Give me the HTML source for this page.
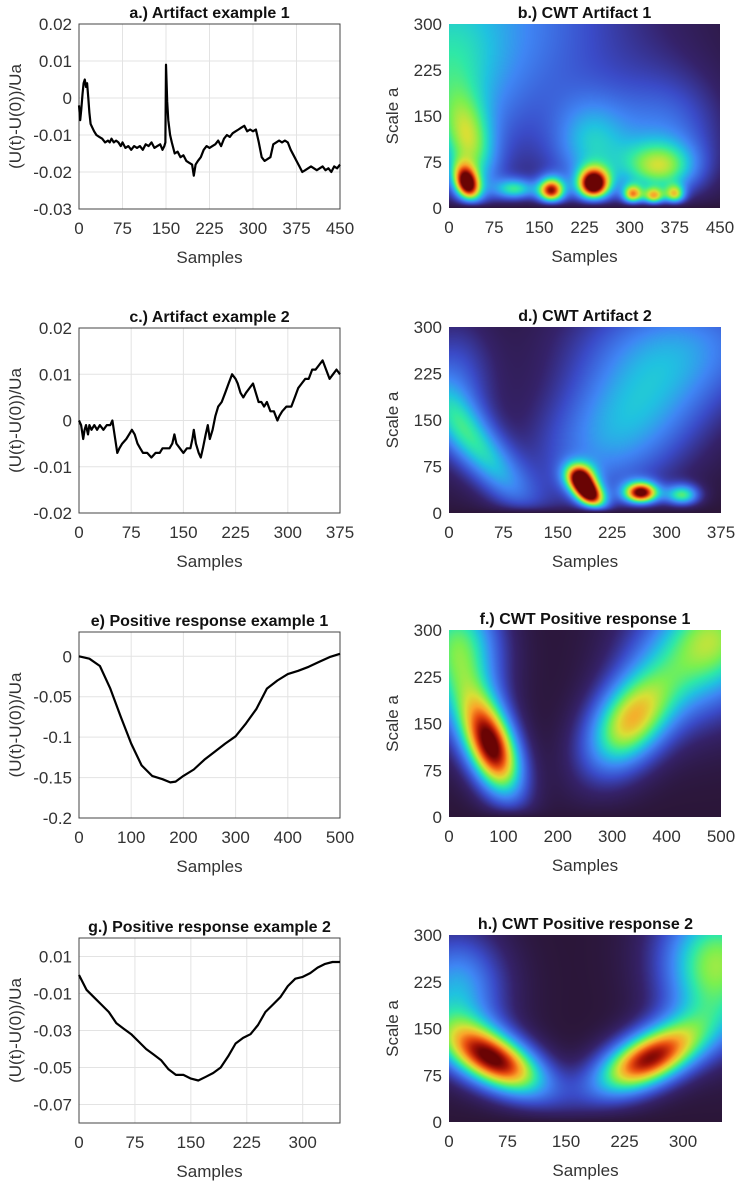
<!DOCTYPE html>
<html><head><meta charset="utf-8">
<style>
body{margin:0;background:#fff;width:737px;height:1181px;overflow:hidden;position:relative;font-family:"Liberation Sans",sans-serif}
svg{position:absolute;left:0;top:0}
canvas{position:absolute}
</style></head>
<body>
<svg id="fig" width="737" height="1181"></svg>
<script>
// ---------- line data ----------
const aX=[0,2,4,6,8,10,12,14,16,18,20,23,26,30,35,40,45,50,53,56,60,64,68,72,75,80,85,90,95,100,105,110,115,120,125,130,135,140,144,147,149,150,152,154,157,160,165,170,175,180,185,190,195,198,201,205,210,215,220,225,230,235,240,245,250,255,260,265,270,275,280,285,290,295,300,305,310,315,320,325,330,335,340,345,350,355,360,365,370,375,380,385,390,395,400,405,410,415,420,425,430,435,440,445,450];
const aY=[-0.002,-0.006,-0.003,0.001,0.004,0.005,0.003,0.004,0.0,-0.004,-0.007,-0.008,-0.009,-0.010,-0.0105,-0.011,-0.012,-0.0115,-0.012,-0.011,-0.012,-0.0115,-0.012,-0.013,-0.012,-0.0135,-0.013,-0.014,-0.013,-0.0135,-0.013,-0.014,-0.0125,-0.013,-0.012,-0.0135,-0.013,-0.0125,-0.014,-0.013,-0.012,0.009,-0.001,-0.006,-0.010,-0.012,-0.015,-0.0145,-0.016,-0.0155,-0.017,-0.0175,-0.018,-0.021,-0.018,-0.017,-0.016,-0.014,-0.013,-0.0135,-0.013,-0.0125,-0.0115,-0.013,-0.011,-0.010,-0.0105,-0.0095,-0.009,-0.0085,-0.008,-0.0075,-0.009,-0.0085,-0.009,-0.0085,-0.012,-0.016,-0.017,-0.0165,-0.016,-0.0125,-0.012,-0.0115,-0.012,-0.0115,-0.012,-0.014,-0.0155,-0.017,-0.0185,-0.020,-0.0195,-0.019,-0.0185,-0.019,-0.0195,-0.019,-0.0185,-0.0195,-0.019,-0.020,-0.0185,-0.019,-0.018];
const cX=[0,3,6,8,10,13,15,18,22,26,30,35,40,45,48,52,55,58,62,68,72,76,80,84,88,92,98,104,110,116,120,125,130,134,137,140,145,150,155,160,163,165,168,172,175,178,182,185,188,192,196,200,205,210,215,220,225,228,232,236,240,245,250,254,258,262,266,270,275,280,285,288,292,298,305,310,315,320,325,330,335,340,345,350,355,360,365,370,375];
const cY=[0,-0.001,-0.004,-0.002,-0.001,-0.003,-0.001,-0.002,-0.001,-0.002,-0.001,-0.002,-0.001,-0.001,0.0,-0.004,-0.007,-0.006,-0.005,-0.004,-0.003,-0.002,-0.003,-0.005,-0.006,-0.007,-0.007,-0.008,-0.007,-0.007,-0.006,-0.006,-0.006,-0.005,-0.003,-0.005,-0.006,-0.007,-0.006,-0.006,-0.004,-0.002,-0.005,-0.007,-0.008,-0.006,-0.003,-0.001,-0.004,-0.002,0.001,0.003,0.004,0.006,0.008,0.010,0.009,0.008,0.006,0.005,0.006,0.007,0.008,0.006,0.004,0.004,0.003,0.004,0.002,0.002,0.0,0.001,0.002,0.003,0.003,0.005,0.007,0.008,0.009,0.009,0.011,0.011,0.012,0.013,0.011,0.009,0.010,0.011,0.010];
const eX=[0,20,40,60,80,100,120,140,160,175,185,200,220,240,260,280,300,320,340,360,380,400,420,440,460,480,500];
const eY=[0,-0.003,-0.012,-0.04,-0.075,-0.108,-0.135,-0.148,-0.152,-0.156,-0.155,-0.148,-0.14,-0.128,-0.118,-0.108,-0.099,-0.083,-0.065,-0.04,-0.03,-0.022,-0.018,-0.013,-0.007,-0.001,0.003];
const gX=[0,10,20,30,40,50,60,70,80,90,100,110,120,130,140,150,160,170,180,190,200,210,220,230,240,250,260,270,280,290,300,310,320,330,340,350];
const gY=[0,-0.008,-0.012,-0.016,-0.02,-0.026,-0.029,-0.032,-0.036,-0.040,-0.043,-0.046,-0.051,-0.054,-0.054,-0.056,-0.057,-0.055,-0.053,-0.050,-0.044,-0.037,-0.034,-0.032,-0.027,-0.020,-0.016,-0.012,-0.006,-0.002,-0.001,0.001,0.004,0.006,0.007,0.007];
// ---------- tick labels ----------
const ticksA_x=[0,75,150,225,300,375,450], ticksA_y=[0.02,0.01,0,-0.01,-0.02,-0.03];
const ticksC_x=[0,75,150,225,300,375], ticksC_y=[0.02,0.01,0,-0.01,-0.02];
const ticksE_x=[0,100,200,300,400,500], ticksE_y=[0,-0.05,-0.1,-0.15,-0.2];
const ticksG_x=[0,75,150,225,300], ticksG_y=[0.01,-0.01,-0.03,-0.05,-0.07];
const ticksScale=[0,75,150,225,300];
// ---------- heatmap blob data (sample, scale, widths, amplitude, tilt) ----------
const bX=[30,30,35,110,170,240,235,305,340,375,350,360,0];
const bA=[300,38,100,30,27,38,100,20,17,20,65,120,200];
const bSx=[200,16,32,24,16,19,45,12,12,12,45,70,60];
const bSa=[170,22,55,13,16,19,55,12,11,12,30,70,90];
const bAmp=[0.42,0.8,0.4,0.45,0.86,0.92,0.32,0.66,0.62,0.56,0.45,0.28,0.18];
const bRho=[0,-0.3,-0.3,0,0,0,0,0,0,0,0,0,0];
const dX=[45,5,240,320,192,180,265,322];
const dA=[100,200,140,280,33,62,32,28];
const dSx=[50,40,90,120,17,15,17,17];
const dSa=[70,80,95,70,22,15,13,13];
const dAmp=[0.42,0.3,0.44,0.28,0.97,0.42,0.92,0.55];
const dRho=[-0.8,0,0.4,0,-0.5,0,0,0];
const fX=[80,25,0,330,450,500];
const fA=[110,240,300,150,260,300];
const fSx=[40,55,60,60,90,60];
const fSa=[58,80,60,60,80,60];
const fAmp=[0.97,0.45,0.25,0.7,0.45,0.3];
const fRho=[-0.45,0,0,0.4,0,0];
const hX=[60,10,255,340,350];
const hA=[98,210,100,220,300];
const hSx=[48,45,50,50,60];
const hSa=[42,70,42,70,60];
const hAmp=[0.95,0.45,0.95,0.5,0.3];
const hRho=[-0.55,0,0.55,0,0];

const NS='http://www.w3.org/2000/svg';
const svg=document.getElementById('fig');
function mk(tag,attrs,parent){const e=document.createElementNS(NS,tag);for(const k in attrs)e.setAttribute(k,attrs[k]);(parent||svg).appendChild(e);return e;}
function txt(s,x,y,opts,parent){const t=mk('text',Object.assign({x:x,y:y,'font-family':'Liberation Sans, sans-serif','font-size':16,fill:'#333'},opts),parent);t.textContent=s;return t;}

function axesFrame(p){
  const g=mk('g',{});
  
  
  const sx=v=>p.l+(v-p.x0)/(p.x1-p.x0)*(p.r-p.l);
  const sy=v=>p.b-(v-p.y0)/(p.y1-p.y0)*(p.b-p.t);
  const t=txt(p.title,(p.l+p.r)/2,p.t-6,{'text-anchor':'middle','font-weight':'bold','font-size':16,fill:'#111'},g);
  
  
  if(!p.heat){
    p.xt.forEach(v=>{const l=mk('line',{x1:sx(v),x2:sx(v),y1:p.t,y2:p.b,stroke:'#e3e3e3','stroke-width':1},g);
      });
    p.yt.forEach(v=>{const l=mk('line',{x1:p.l,x2:p.r,y1:sy(v),y2:sy(v),stroke:'#e3e3e3','stroke-width':1},g);
      });
  }
  p.xt.forEach(v=>{const e=txt(String(v),sx(v),p.b+25,{'text-anchor':'middle','font-size':17},g);
    });
  p.yt.forEach(v=>{const e=txt(String(v),p.l-7,sy(v)+6,{'text-anchor':'end','font-size':17},g);
    });
  const xl=txt('Samples',(p.l+p.r)/2,p.b+54,{'text-anchor':'middle','font-size':17},g);
  
  const yx=p.heat?p.l-57:15, yy=(p.t+p.b)/2;
  const yl=txt(p.ylabel,yx,yy,{'text-anchor':'middle','font-size':17,transform:'rotate(-90 '+yx+' '+yy+')',dy:6},g);
  
  return {g,sx,sy};
}

function linePanel(p,X,Y){
  const {g,sx,sy}=axesFrame(p);
  const box=mk('rect',{x:p.l,y:p.t,width:p.r-p.l,height:p.b-p.t,fill:'none',stroke:'#444','stroke-width':1},g);
  
  const d=X.map((x,i)=>(i?'L':'M')+sx(x).toFixed(1)+' '+sy(Y[i]).toFixed(1)).join(' ');
  const path=mk('path',{d:d,fill:'none',stroke:'#000','stroke-width':p.sw,'stroke-linejoin':'round'},g);
  
}

const stops=[[0,'#2b1638'],[0.12,'#35226a'],[0.25,'#3a4bc8'],[0.38,'#3f86f4'],[0.48,'#20c2e0'],[0.56,'#2ee8a8'],[0.64,'#7af050'],[0.72,'#d8e035'],[0.80,'#fba52a'],[0.88,'#e84c10'],[0.95,'#a81406'],[1,'#6a0404']];
const stopRGB=stops.map(s=>[s[0],parseInt(s[1].substr(1,2),16),parseInt(s[1].substr(3,2),16),parseInt(s[1].substr(5,2),16)]);
function cmap(v){v=Math.max(0,Math.min(1,v));for(let i=1;i<stopRGB.length;i++){if(v<=stopRGB[i][0]){const a=stopRGB[i-1],b=stopRGB[i],f=(v-a[0])/(b[0]-a[0]);return [a[1]+(b[1]-a[1])*f,a[2]+(b[2]-a[2])*f,a[3]+(b[3]-a[3])*f];}}return stopRGB[stopRGB.length-1].slice(1);}

function heatPanel(p,BX,BA,BSX,BSA,BAMP,BRHO){
  const {g,sx,sy}=axesFrame(p);
  const W=Math.round(p.r-p.l),H=Math.round(p.b-p.t);
  const cv=document.createElement('canvas');
  cv.width=W;cv.height=H;cv.style.left=p.l+'px';cv.style.top=p.t+'px';
  
  
  document.body.appendChild(cv);
  const ctx=cv.getContext('2d');const img=ctx.createImageData(W,H);
  for(let j=0;j<H;j++){const a=p.y1-(j+0.5)/H*(p.y1-p.y0);
    for(let i=0;i<W;i++){const x=p.x0+(i+0.5)/W*(p.x1-p.x0);let v=0;
      for(let k=0;k<BX.length;k++){const u=(x-BX[k])/BSX[k],w=(a-BA[k])/BSA[k],r=BRHO[k];
        v+=BAMP[k]*Math.exp(-0.5*(u*u+w*w-2*r*u*w)/(1-r*r));}
      v*=(1-Math.exp(-a/9));
      const c=cmap(v),o=(j*W+i)*4;img.data[o]=c[0];img.data[o+1]=c[1];img.data[o+2]=c[2];img.data[o+3]=255;}}
  ctx.putImageData(img,0,0);
}

linePanel({name:'panel-a',title:'a.) Artifact example 1',ylabel:'(U(t)-U(0))/Ua',l:79,r:340,t:24,b:209,x0:0,x1:450,y0:-0.03,y1:0.02,xt:ticksA_x,yt:ticksA_y,sw:2.2},aX,aY);
linePanel({name:'panel-c',title:'c.) Artifact example 2',ylabel:'(U(t)-U(0))/Ua',l:79,r:340,t:328,b:513,x0:0,x1:375,y0:-0.02,y1:0.02,xt:ticksC_x,yt:ticksC_y,sw:2.2},cX,cY);
linePanel({name:'panel-e',title:'e) Positive response example 1',ylabel:'(U(t)-U(0))/Ua',l:79,r:340,t:632,b:818,x0:0,x1:500,y0:-0.2,y1:0.03,xt:ticksE_x,yt:ticksE_y,sw:2.2},eX,eY);
linePanel({name:'panel-g',title:'g.) Positive response example 2',ylabel:'(U(t)-U(0))/Ua',l:79,r:340,t:938,b:1123,x0:0,x1:350,y0:-0.08,y1:0.02,xt:ticksG_x,yt:ticksG_y,sw:2.2},gX,gY);
heatPanel({name:'panel-b',heat:1,title:'b.) CWT Artifact 1',ylabel:'Scale a',l:449,r:720,t:24,b:208,x0:0,x1:450,y0:0,y1:300,xt:ticksA_x,yt:ticksScale},bX,bA,bSx,bSa,bAmp,bRho);
heatPanel({name:'panel-d',heat:1,title:'d.) CWT Artifact 2',ylabel:'Scale a',l:449,r:721,t:327,b:513,x0:0,x1:375,y0:0,y1:300,xt:ticksC_x,yt:ticksScale},dX,dA,dSx,dSa,dAmp,dRho);
heatPanel({name:'panel-f',heat:1,title:'f.) CWT Positive response 1',ylabel:'Scale a',l:449,r:721,t:630,b:817,x0:0,x1:500,y0:0,y1:300,xt:ticksE_x,yt:ticksScale},fX,fA,fSx,fSa,fAmp,fRho);
heatPanel({name:'panel-h',heat:1,title:'h.) CWT Positive response 2',ylabel:'Scale a',l:449,r:722,t:935,b:1122,x0:0,x1:350,y0:0,y1:300,xt:ticksG_x,yt:ticksScale},hX,hA,hSx,hSa,hAmp,hRho);
</script>
</body></html>
